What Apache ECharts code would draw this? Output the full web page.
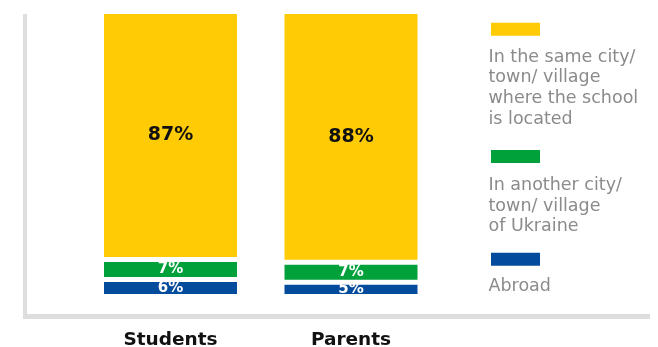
<!DOCTYPE html>
<html>
<head>
<meta charset="utf-8">
<style>
  html, body { margin: 0; padding: 0; background: #ffffff; }
  #chart { width: 658px; height: 347px; }
</style>
<script src="https://cdn.jsdelivr.net/npm/echarts@6/dist/echarts.min.js"></script>
</head>
<body>
<div id="chart"></div>
<script>
// Where respondents live, share of each group (%)
const categories = ['Students', 'Parents'];
const sameCity   = [87, 88];
const otherCity  = [7, 7];
const abroad     = [6, 5];

const seriesNames = [
  'In the same city/\ntown/ village\nwhere the school\nis located',
  'In another city/\ntown/ village\nof Ukraine',
  'Abroad'
];
const seriesColors = ['#FFCB05', '#00A13B', '#034B9C'];
const labelColors  = ['#111111', '#ffffff', '#ffffff'];

const chart = echarts.init(document.getElementById('chart'), null, { renderer: 'canvas' });

const boldFont = '"DejaVu Sans", sans-serif';
const legendFont = '"DejaVu Sans", sans-serif';
const gapHalf = 2.5; // white border inside each segment -> visible gap between segments

function makeSeries(idx, values, fontSize) {
  return {
    name: seriesNames[idx],
    type: 'bar',
    stack: 'total',
    barWidth: 133 + gapHalf * 2,
    data: values,
    itemStyle: { color: seriesColors[idx], borderColor: '#ffffff', borderWidth: gapHalf },
    label: {
      show: true,
      position: 'inside',
      formatter: '{c}%',
      color: labelColors[idx],
      fontFamily: boldFont,
      fontWeight: 'bold',
      fontSize: fontSize
    },
    emphasis: { disabled: true },
    animation: false
  };
}

// legend blocks: swatch above wrapped text
const legendLineHeight = 20.8;
const swatchTops = [22.7, 150, 252.7];
const firstLineCenters = [56, 184.2, 285.5];
const legendGraphics = [];
seriesNames.forEach((name, i) => {
  legendGraphics.push({
    type: 'rect',
    left: 491, top: swatchTops[i],
    shape: { width: 49, height: 13 },
    style: { fill: seriesColors[i] },
    silent: true
  });
  legendGraphics.push({
    type: 'text',
    left: 488.5, top: firstLineCenters[i] - legendLineHeight / 2 + 1,
    style: {
      text: name,
      fill: '#8b8b8b',
      font: '17.5px ' + legendFont,
      lineHeight: legendLineHeight
    },
    silent: true
  });
});

chart.setOption({
  animation: false,
  grid: { left: 80.25, width: 361, top: 11.5, height: 285, outerBoundsMode: 'none' },
  xAxis: {
    type: 'category',
    data: categories,
    axisLine: { show: false },
    axisTick: { show: false },
    axisLabel: {
      margin: 34,
      color: '#111111',
      fontFamily: boldFont,
      fontWeight: 'bold',
      fontSize: 18.5
    }
  },
  yAxis: {
    type: 'value',
    min: 0,
    max: 100,
    show: false
  },
  series: [
    makeSeries(2, abroad, 15),
    makeSeries(1, otherCity, 15),
    makeSeries(0, sameCity, 19)
  ],
  graphic: [
    // chart frame
    { type: 'rect', left: 23, top: 14, shape: { width: 4, height: 305 }, style: { fill: '#dedede' }, silent: true },
    { type: 'rect', left: 23, top: 314, shape: { width: 627, height: 5 }, style: { fill: '#dedede' }, silent: true }
  ].concat(legendGraphics)
});
</script>
</body>
</html>
